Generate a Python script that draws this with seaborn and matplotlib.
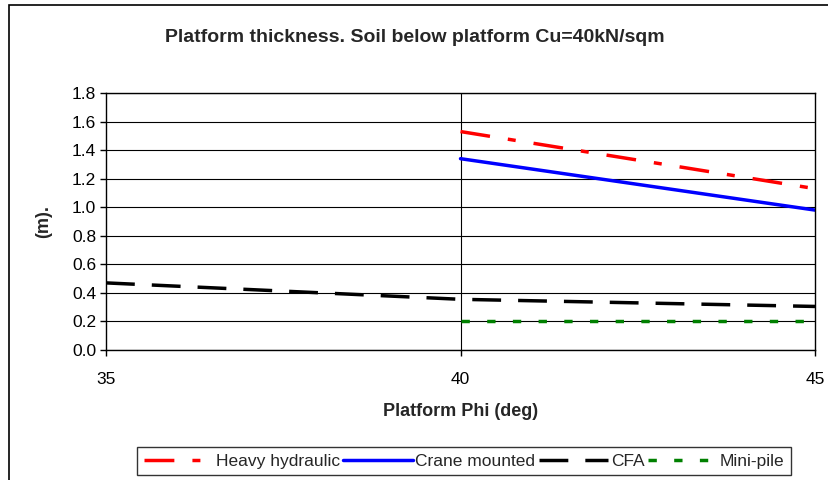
import matplotlib
matplotlib.use("Agg")
import matplotlib.pyplot as plt
import seaborn as sns
import pandas as pd
from matplotlib.patches import Rectangle

# ---- data ----
series_names = ["Heavy hydraulic", "Crane mounted", "CFA", "Mini-pile"]
heavy_x = [40, 45]
heavy_y = [1.53, 1.13]
crane_x = [40, 45]
crane_y = [1.34, 0.98]
cfa_x = [35, 40, 45]
cfa_y = [0.47, 0.355, 0.305]
mini_x = [40, 45]
mini_y = [0.20, 0.20]
x_ticks = [35, 40, 45]
y_ticks = [0.0, 0.2, 0.4, 0.6, 0.8, 1.0, 1.2, 1.4, 1.6, 1.8]

frames = []
for name, xs, ys in zip(series_names,
                        [heavy_x, crane_x, cfa_x, mini_x],
                        [heavy_y, crane_y, cfa_y, mini_y]):
    frames.append(pd.DataFrame({"phi": xs, "t": ys, "series": name}))
df = pd.concat(frames, ignore_index=True)

sns.set_theme(style="white")
plt.rcParams['font.family'] = ['Liberation Sans', 'DejaVu Sans']

fig = plt.figure(figsize=(8.29, 4.8), dpi=100)
ax = fig.add_axes([106/829, 1-350/480, (815-106)/829, (350-93)/480])

palette = {"Heavy hydraulic": "#ff0000", "Crane mounted": "#0000ff",
           "CFA": "#000000", "Mini-pile": "#008000"}
dashes = {"Heavy hydraulic": (8.6, 5.2, 2.3, 5.2), "Crane mounted": "",
          "CFA": (8.3, 4.9), "Mini-pile": (2.4, 5.0)}
sns.lineplot(data=df, x="phi", y="t", hue="series", style="series",
             palette=palette, dashes=dashes, hue_order=series_names,
             style_order=series_names, linewidth=2.5, ax=ax, legend=False,
             estimator=None, sort=True)

ax.set_xlim(35, 45)
ax.set_ylim(0, 1.8)
ax.set_xticks(x_ticks)
ax.set_yticks(y_ticks)
ax.set_yticklabels([f"{v:.1f}" for v in y_ticks])
ax.set_xticklabels([str(v) for v in x_ticks])
ax.tick_params(axis="both", direction="out", length=4, width=1, color="black",
               labelsize=12.5, labelcolor="black", left=True, bottom=True, pad=3)
ax.tick_params(axis="x", pad=12)
ax.grid(True, axis="y", color="black", linewidth=0.8)
ax.axvline(40, color="black", linewidth=0.8, zorder=0.5)
for s in ax.spines.values():
    s.set_color("black")
    s.set_linewidth(1.0)
ax.set_axisbelow(True)

ax.set_xlabel("Platform Phi (deg)", fontsize=13, fontweight="bold", labelpad=11)
ax.set_ylabel("(m).", fontsize=13, fontweight="bold", labelpad=14)
fig.text(0.5, 1-38/480, "Platform thickness. Soil below platform Cu=40kN/sqm",
         ha="center", va="center", fontsize=14, fontweight="bold")

handles = ax.get_lines()[:4]
leg = fig.legend(handles, series_names, loc="center", ncol=4,
                 bbox_to_anchor=(464/829, 1-461/480), frameon=True,
                 fancybox=False, edgecolor="black", fontsize=12.5,
                 handlelength=4.0, handletextpad=0.15, columnspacing=0.2,
                 borderpad=0.35, borderaxespad=0)
leg.get_frame().set_linewidth(1.0)

fig.patches.append(Rectangle((9/829, -0.1), 1.0, 1.1 - 5/480, transform=fig.transFigure,
                             fill=False, edgecolor="black", linewidth=1.2, zorder=0))

fig.savefig("out.png", dpi=100)
